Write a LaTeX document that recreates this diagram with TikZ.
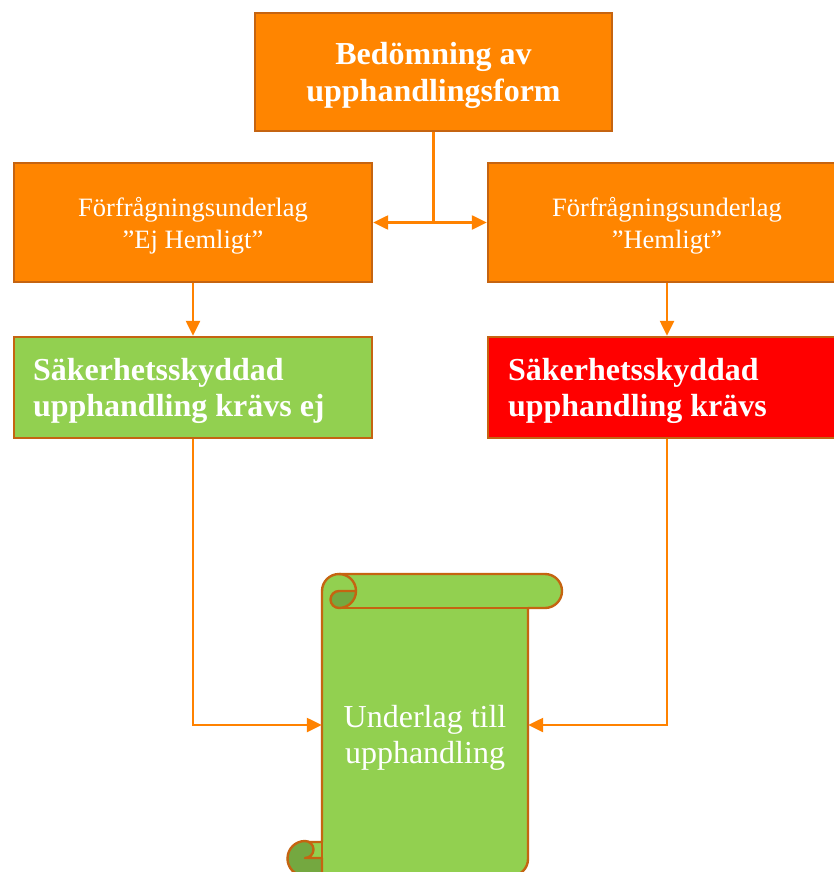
\documentclass[tikz,border=0pt]{standalone}
\usepackage{fontspec}
\setmainfont{Liberation Serif}
\usetikzlibrary{arrows.meta}
\definecolor{orfill}{RGB}{255,133,0}
\definecolor{orline}{RGB}{197,100,17}
\definecolor{connc}{RGB}{255,130,0}
\definecolor{grfill}{RGB}{146,208,80}
\definecolor{grdark}{RGB}{116,168,64}
\definecolor{rdfill}{RGB}{255,0,0}
\begin{document}
\begin{tikzpicture}[x=1pt,y=-1pt,
  box/.style={draw=orline, line width=2.4pt, rectangle, inner sep=0pt},
  obox/.style={box, fill=orfill, minimum width=358pt, minimum height=119pt},
  topbox/.style={box, fill=orfill, minimum width=357pt, minimum height=118pt},
  sbox/.style={box, minimum width=358pt, minimum height=101pt},
  txt/.style={text=white, inner sep=0pt},
  otxt/.style={txt, font=\fontsize{26.5}{31.5}\selectfont},
  toptxt/.style={txt, font=\fontsize{32}{37}\selectfont\bfseries},
  stxt/.style={txt, anchor=west, font=\fontsize{32}{36}\selectfont\bfseries},
  scrtxt/.style={txt, font=\fontsize{32}{36}\selectfont},
  connline/.style={draw=connc, line width=2.4pt},
  arr/.style={connline, -{Triangle[length=15pt,width=14pt]}},
  scrollline/.style={draw=orline, line width=2.4pt, line join=round}
]
\clip (0,0) rectangle (834,872);
\fill[white] (0,0) rectangle (834,872);

% boxes
\node[topbox] (top) at (433.5,72) {};
\node[toptxt] (toptext) at ([yshift=-4pt]top.center) {\begin{tabular}{@{}c@{}}Bedömning av\\upphandlingsform\end{tabular}};
\node[obox] (ej) at (193,222.5) {};
\node[otxt] (ejtext) at ([yshift=-3.5pt]ej.center) {\begin{tabular}{@{}c@{}}Förfrågningsunderlag\\”Ej Hemligt”\end{tabular}};
\node[obox] (hem) at (667,222.5) {};
\node[otxt] (hemtext) at ([yshift=-3.5pt]hem.center) {\begin{tabular}{@{}c@{}}Förfrågningsunderlag\\”Hemligt”\end{tabular}};
\node[sbox, fill=grfill] (kej) at (193,387.5) {};
\node[stxt] (kejtext) at ([xshift=20pt,yshift=-4pt]kej.west) {\begin{tabular}{@{}l@{}}Säkerhetsskyddad\\upphandling krävs ej\end{tabular}};
\node[sbox, fill=rdfill] (kr) at (667,387.5) {};
\node[stxt] (krtext) at ([xshift=21pt,yshift=-4pt]kr.west) {\begin{tabular}{@{}l@{}}Säkerhetsskyddad\\upphandling krävs\end{tabular}};

% scroll
\path[fill=grfill, scrollline]
  (322,591) arc[start angle=180, end angle=90, radius=17pt]
  -- (545,574) arc[start angle=90, end angle=-90, radius=17pt]
  -- (528,608) -- (528,859) arc[start angle=0, end angle=-90, radius=17pt]
  -- (305,876) arc[start angle=-90, end angle=-270, radius=17pt]
  -- (322,842) -- cycle;
\path[fill=grdark, scrollline]
  (356,591) arc[start angle=0, end angle=-90, radius=17pt]
  arc[start angle=-90, end angle=-270, radius=8.5pt] -- cycle;
\path[scrollline] (339,574) arc[start angle=90, end angle=0, radius=17pt];
\path[scrollline] (528,608) -- (339,608);
\path[fill=grdark, scrollline]
  (305,841) arc[start angle=90, end angle=270, radius=17.5pt]
  -- (322,876) -- (322,858) -- (305,858)
  arc[start angle=-90, end angle=90, radius=8.5pt] -- cycle;
\path[scrollline] (322,841) -- (322,876);
\node[minimum width=206pt, minimum height=302pt, inner sep=0pt] (scroll) at (425,725) {};
\node[scrtxt] (scrolltext) at (425,738) {\begin{tabular}{@{}c@{}}Underlag till\\upphandling\end{tabular}};

% connectors
\coordinate (j) at (top.south |- ej.east);
\draw[connline] (top.south) -- (j);
\draw[arr] (j) -- (ej.east);
\draw[arr] (j) -- (hem.west);
\draw[arr] (ej.south) -- (kej.north);
\draw[arr] (hem.south) -- (kr.north);
\draw[arr] (kej.south) |- (scroll.west);
\draw[arr] (kr.south) |- (scroll.east);
\end{tikzpicture}
\end{document}
